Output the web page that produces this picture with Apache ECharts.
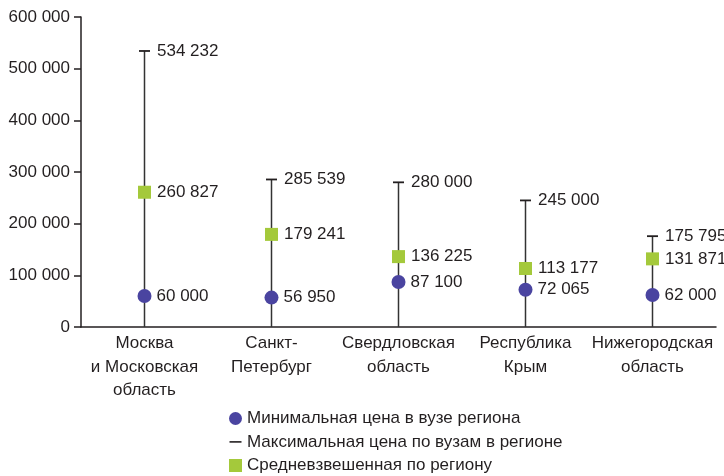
<!DOCTYPE html>
<html>
<head>
<meta charset="utf-8">
<script src="https://cdn.jsdelivr.net/npm/echarts@6/dist/echarts.min.js"></script>
<style>
    html, body {margin: 0; padding: 0; background: #fff;}
    #main {width: 724px; height: 476px;}
</style>
</head>
<body>
<div id="main"></div>
<script>
var regions = ['Москва\nи Московская\nобласть', 'Санкт-\nПетербург', 'Свердловская\nобласть', 'Республика\nКрым', 'Нижегородская\nобласть'];
var minPrice = [60000, 56950, 87100, 72065, 62000];
var maxPrice = [534232, 285539, 280000, 245000, 175795];
var avgPrice = [260827, 179241, 136225, 113177, 131871];
var yTicks = [0, 100000, 200000, 300000, 400000, 500000, 600000];

var nameMin = 'Минимальная цена в вузе региона';
var nameMax = 'Максимальная цена по вузам в регионе';
var nameAvg = 'Средневзвешенная по региону';

var textColor = '#231f20';
var font = "'Liberation Sans', Arial, sans-serif";
var fontSize = 17;

// пробел как разделитель тысяч
function fmt(v) {
    return String(v).replace(/\B(?=(\d{3})+(?!\d))/g, ' ');
}

var labelStyle = function (dist) {
    return {
        show: true,
        position: 'right',
        distance: dist,
        color: textColor,
        fontSize: fontSize,
        fontFamily: font,
        formatter: function (p) {
            return fmt(p.value);
        }
    };
};

var myCharts = echarts.init(document.getElementById('main'));
myCharts.setOption({
    animation: false,
    grid: {left: 81, right: 8, top: 17, bottom: 149, outerBoundsMode: 'none'},
    legend: {
        orient: 'vertical',
        left: 229,
        top: 410,
        height: 80,
        padding: 0,
        itemWidth: 13,
        itemHeight: 13,
        itemGap: 6.5,
        textStyle: {color: textColor, fontSize: fontSize, fontFamily: font},
        data: [
            {name: nameMin, icon: 'circle'},
            {name: nameMax, icon: 'path://M0,0L0,0M0,5.6L12,5.6L12,7.2L0,7.2ZM0,13L0,13'},
            {name: nameAvg, icon: 'rect'}
        ]
    },
    xAxis: {
        type: 'category',
        data: regions,
        axisLine: {lineStyle: {color: textColor, width: 1.5}},
        axisTick: {alignWithLabel: true, length: 7, lineStyle: {color: textColor, width: 1.5}},
        axisLabel: {
            color: textColor,
            fontSize: fontSize,
            fontFamily: font,
            lineHeight: 23.5,
            margin: 5,
            interval: 0
        }
    },
    yAxis: {
        type: 'value',
        min: yTicks[0],
        max: yTicks[yTicks.length - 1],
        interval: 100000,
        splitLine: {show: false},
        axisLine: {show: true, lineStyle: {color: textColor, width: 1.5}},
        axisTick: {show: true, length: 7, lineStyle: {color: textColor, width: 1.5}},
        axisLabel: {
            color: textColor,
            fontSize: fontSize,
            fontFamily: font,
            margin: 11,
            formatter: fmt
        }
    },
    series: [{
        // вертикальная линия от нуля до максимума
        name: 'stem',
        type: 'bar',
        data: maxPrice,
        barWidth: 1.5,
        itemStyle: {color: '#333'},
        silent: true,
        z: 1
    }, {
        name: nameMax,
        type: 'scatter',
        data: maxPrice,
        symbol: 'rect',
        symbolSize: [11, 1.8],
        itemStyle: {color: textColor, opacity: 1},
        label: labelStyle(7),
        z: 3
    }, {
        name: nameMin,
        type: 'scatter',
        data: minPrice,
        symbol: 'circle',
        symbolSize: 14,
        itemStyle: {color: '#4a44a0', opacity: 1},
        label: labelStyle(5),
        z: 3
    }, {
        name: nameAvg,
        type: 'scatter',
        data: avgPrice,
        symbol: 'rect',
        symbolSize: 13,
        itemStyle: {color: '#a4c93b', opacity: 1},
        label: labelStyle(6),
        z: 3
    }]
});
</script>
</body>
</html>
